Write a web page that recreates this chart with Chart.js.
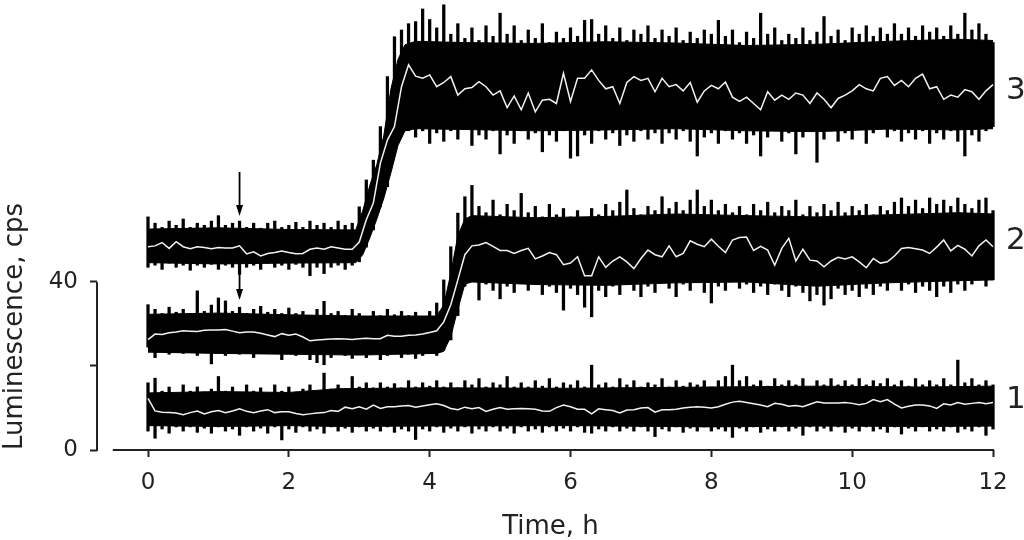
<!DOCTYPE html>
<html>
<head>
<meta charset="utf-8">
<script src="https://cdn.jsdelivr.net/npm/chart.js@4.4.0/dist/chart.umd.min.js"></script>
<style>
  html, body { margin: 0; padding: 0; background: #fff; }
  #wrap { width: 1024px; height: 540px; position: relative; }
</style>
</head>
<body>
<div id="wrap"><canvas id="myChart"></canvas></div>
<script>
// Sampling times of the peak readings, h
const hours = [
  0,0.1,0.2,0.3,0.4,0.5,0.6,0.7,0.8,0.9,
  1,1.1,1.2,1.3,1.4,1.5,1.6,1.7,1.8,1.9,
  2,2.1,2.2,2.3,2.4,2.5,2.6,2.7,2.8,2.9,
  3,3.1,3.2,3.3,3.4,3.5,3.6,3.7,3.8,3.9,
  4,4.1,4.2,4.3,4.4,4.5,4.6,4.7,4.8,4.9,
  5,5.1,5.2,5.3,5.4,5.5,5.6,5.7,5.8,5.9,
  6,6.1,6.2,6.3,6.4,6.5,6.6,6.7,6.8,6.9,
  7,7.1,7.2,7.3,7.4,7.5,7.6,7.7,7.8,7.9,
  8,8.1,8.2,8.3,8.4,8.5,8.6,8.7,8.8,8.9,
  9,9.1,9.2,9.3,9.4,9.5,9.6,9.7,9.8,9.9,
  10,10.1,10.2,10.3,10.4,10.5,10.6,10.7,10.8,10.9,
  11,11.1,11.2,11.3,11.4,11.5,11.6,11.7,11.8,11.9,12
];

// Curve 1 - upper / lower peaks of the raw signal and the averaged trace (cps)
const top1 = [
  16.0,17.1,14.0,15.0,13.5,15.5,14.0,15.0,13.8,14.5,
  17.5,14.0,15.0,13.5,15.5,14.0,14.8,13.5,15.5,14.0,
  15.0,13.8,14.5,15.5,14.0,18.3,14.5,15.5,14.5,17.5,
  15.0,16.0,14.8,16.0,15.0,15.8,14.8,16.5,15.0,16.0,
  15.2,16.5,15.0,16.0,14.8,16.5,15.5,17.0,15.0,16.0,
  15.5,17.5,15.0,16.0,15.0,16.5,15.2,17.0,15.0,16.0,
  15.5,16.5,15.0,20.2,15.5,16.0,15.0,17.0,15.5,16.5,
  15.0,16.0,15.5,17.0,15.0,16.5,15.2,16.0,15.5,16.5,
  15.0,16.5,17.5,20.2,16.5,17.5,15.5,16.5,15.2,17.0,
  15.5,16.5,15.5,17.0,15.0,16.5,15.5,17.0,15.5,16.5,
  15.5,17.0,15.5,16.5,15.8,17.0,15.5,16.5,15.2,17.0,
  15.5,16.5,15.5,17.0,15.5,21.4,16.0,17.0,15.5,16.5,15.5
];
const bottom1 = [
  4.5,2.8,5.0,4.0,5.5,4.5,5.5,4.2,5.2,4.0,
  5.5,4.5,5.0,3.5,5.5,4.5,5.2,4.0,5.5,2.4,
  5.0,4.2,5.5,4.5,5.0,4.0,5.5,4.5,5.2,4.2,
  5.5,4.5,5.2,4.5,5.5,4.2,5.0,4.5,2.5,5.0,
  4.5,5.5,4.2,5.2,4.5,5.5,4.0,5.0,4.5,5.5,
  4.5,5.2,4.0,5.5,4.5,5.0,4.2,5.5,4.5,5.2,
  4.5,5.5,4.2,4.0,5.0,4.5,5.5,4.5,5.2,4.5,
  5.5,4.5,3.2,5.0,4.5,5.5,4.2,5.2,4.5,5.5,
  4.5,5.0,4.5,3.0,5.2,4.5,5.5,4.2,5.0,4.5,
  5.5,4.5,5.2,3.5,5.5,4.5,5.2,4.5,5.5,4.2,
  5.2,4.5,5.5,4.5,5.0,4.2,5.5,3.8,5.2,4.5,
  5.5,4.5,5.0,4.5,5.5,4.2,5.0,4.5,5.5,3.5,5.0
];
const mean1 = [
  12.3,9.3,9.0,8.9,8.8,8.4,8.9,9.3,8.6,9.1,
  9.4,8.9,9.3,9.8,9.2,8.9,9.3,9.6,8.9,9.1,
  9.1,8.7,8.4,8.6,8.8,8.9,9.4,9.2,10.2,9.8,
  10.3,9.7,10.7,9.9,10.3,10.3,10.5,10.6,10.2,10.5,
  10.8,11.0,10.6,9.9,9.6,10.2,9.8,10.1,9.2,9.7,
  10.1,9.7,9.8,9.9,9.8,9.7,9.3,9.2,10.1,10.7,
  10.3,9.7,9.7,8.6,9.8,9.6,9.4,8.8,9.5,9.6,
  10.0,10.1,9.0,9.6,9.6,9.7,10.0,10.2,10.3,10.2,
  10.0,10.3,10.9,11.4,11.6,11.3,11.0,10.7,10.3,11.1,
  10.9,10.4,10.6,10.3,10.9,11.5,11.2,11.2,11.2,11.3,
  11.1,10.8,11.1,12.0,11.5,12.0,10.9,10.0,10.4,10.7,
  10.7,10.5,9.9,11.0,10.7,11.3,10.9,11.1,11.3,11.0,11.3
];
// solid core of the noise band (where the trace is dense)
const coreHours1 = [0, 1.0, 2.0, 2.7, 4.0, 6.0, 8.0, 9.5, 11.0, 12];
const coreTop1 = [13.6, 13.9, 13.7, 14.6, 14.8, 14.7, 15.0, 15.2, 15.0, 15.2];
const coreBottom1 = [5.8, 5.6, 5.8, 5.6, 5.7, 5.8, 5.5, 5.7, 5.6, 5.7];

// Curve 2
const top2 = [
  34.6,33.5,32.5,34.0,32.8,33.5,32.5,37.9,33.0,34.5,
  36.2,35.5,33.0,34.0,32.5,33.5,34.2,32.8,33.5,32.5,
  33.8,32.5,33.0,32.0,33.5,35.4,32.5,33.0,32.0,33.5,
  32.5,31.8,33.0,32.0,33.5,32.2,33.0,32.0,32.8,31.8,
  33.0,35.0,40.5,48.4,56.4,60.3,63.0,58.0,56.5,59.5,
  56.0,58.5,57.0,61.1,56.5,58.0,55.5,58.5,56.0,57.5,
  55.5,57.0,55.0,57.5,56.0,58.5,57.0,59.0,61.9,57.5,
  56.0,58.0,57.0,60.3,57.5,59.0,57.0,59.5,61.9,58.0,
  59.5,57.0,58.5,56.5,58.0,56.0,58.5,57.0,59.0,56.5,
  58.0,57.0,59.5,56.0,58.0,56.5,58.5,57.0,59.0,56.5,
  58.0,57.0,58.5,56.0,58.0,57.0,59.0,60.0,58.0,59.5,
  57.5,60.0,58.5,59.5,58.0,60.0,58.5,57.5,59.5,60.0,57.0
];
const bottom2 = [
  24.5,22.0,23.5,22.8,24.0,23.0,23.5,22.5,24.0,20.5,
  23.0,22.5,23.8,22.8,23.5,22.0,23.0,24.0,23.2,21.5,
  23.5,22.5,23.5,21.5,20.8,20.3,22.0,23.0,22.5,21.8,
  22.8,22.0,23.0,21.5,22.5,23.0,22.0,22.8,21.8,22.5,
  23.0,22.5,23.8,26.2,32.0,39.0,41.5,35.7,39.5,38.0,
  36.0,39.0,37.5,40.0,38.0,39.5,37.0,39.0,37.5,33.3,
  38.5,37.0,34.0,31.7,38.0,36.5,39.0,37.0,39.5,38.0,
  36.5,39.0,37.5,40.0,38.5,36.5,39.5,38.0,40.0,37.5,
  35.0,39.0,38.0,40.5,38.5,39.5,37.5,39.0,37.0,39.5,
  38.0,36.5,39.0,37.5,35.5,37.0,34.5,36.0,38.5,37.0,
  38.0,36.5,38.5,37.0,39.0,38.0,40.0,38.0,39.5,37.5,
  39.0,38.0,36.5,39.0,37.5,39.5,38.0,39.5,40.5,39.0,40.5
];
const mean2 = [
  26.3,27.6,27.5,27.9,28.1,28.4,28.3,28.2,28.5,28.6,
  28.6,28.7,28.3,27.9,28.1,28.1,27.8,27.4,27.0,27.7,
  27.3,27.6,26.9,26.0,26.2,26.3,26.4,26.5,26.4,26.3,
  26.5,26.6,26.5,26.5,27.3,27.1,27.1,27.3,27.4,27.6,
  28.0,28.4,30.5,34.6,40.5,46.5,48.6,48.8,49.4,48.5,
  47.5,47.5,46.8,47.5,48.0,45.5,46.2,47.0,46.5,44.1,
  44.5,46.0,41.5,41.5,46.0,43.5,45.0,46.0,44.8,43.2,
  45.6,47.6,46.5,46.0,48.6,46.0,46.8,49.8,49.0,48.4,
  50.2,48.5,47.0,50.0,50.6,50.7,47.5,48.5,47.6,44.0,
  48.0,50.4,45.0,47.8,45.2,45.0,43.6,45.0,45.9,45.5,
  46.0,44.8,43.4,45.6,44.5,44.8,46.2,48.0,48.2,47.9,
  47.6,46.8,48.3,50.0,47.4,48.7,47.8,46.2,48.6,50.0,48.4
];
const coreHours2 = [0, 1.0, 2.0, 3.0, 4.1, 4.2, 4.3, 4.4, 4.5, 4.6, 5.5, 6.5, 7.5, 8.5, 9.5, 10.5, 11.5, 12];
const coreTop2 = [32.3, 32.6, 32.2, 31.9, 31.9, 34.5, 42.0, 51.0, 55.0, 55.8, 55.3, 55.6, 56.2, 55.8, 55.5, 56.0, 56.5, 56.2];
const coreBottom2 = [23.3, 23.0, 22.8, 22.6, 23.0, 23.5, 27.0, 33.5, 39.5, 40.0, 39.4, 39.2, 39.8, 40.0, 39.0, 39.8, 40.3, 40.5];

// Curve 3
const top3 = [
  55.5,54.0,53.0,54.5,53.5,55.0,53.0,54.0,53.5,54.5,
  55.8,53.5,54.0,54.5,53.0,54.0,52.8,54.0,54.5,53.0,
  53.5,54.2,53.0,54.5,53.5,54.0,53.0,54.5,53.5,54.0,
  57.9,64.3,69.0,77.0,88.9,98.4,100.0,101.5,102.0,105.0,
  102.5,100.5,106.0,99.0,101.5,98.0,100.5,97.5,101.0,98.5,
  104.0,99.0,101.0,97.5,100.0,98.0,101.5,97.0,99.5,98.0,
  100.5,98.5,102.3,102.5,99.0,101.0,98.0,100.5,97.5,100.0,
  99.0,101.0,98.0,100.0,98.5,100.5,97.5,99.5,98.0,100.0,
  99.0,102.3,98.5,100.0,97.0,99.5,98.0,104.0,99.0,100.5,
  97.5,99.0,98.0,100.5,97.5,99.5,103.2,98.5,100.0,97.5,
  100.5,99.0,101.0,98.5,100.5,99.0,101.5,99.0,100.5,98.5,
  101.0,99.5,100.5,98.5,101.0,99.0,104.0,100.0,101.5,99.0,97.0
];
const bottom3 = [
  43.5,44.0,43.0,44.5,43.5,44.0,42.8,44.0,43.5,44.2,
  43.0,44.0,43.5,41.8,43.5,44.0,43.0,44.5,43.5,44.0,
  43.0,44.2,43.5,41.5,43.5,42.0,43.5,44.0,43.0,44.0,
  44.8,48.3,52.4,57.9,62.7,71.4,75.5,76.0,74.5,76.0,
  73.0,75.5,73.5,76.0,74.0,76.5,72.5,75.0,74.0,76.0,
  70.5,75.0,73.0,76.0,74.0,75.5,71.0,75.0,73.5,76.0,
  69.5,70.0,75.0,73.0,76.0,74.0,75.5,72.5,75.0,73.5,
  76.0,74.0,75.5,73.0,75.5,74.0,76.0,73.5,70.0,74.5,
  75.5,73.0,76.0,74.0,75.5,73.0,75.0,70.0,74.5,76.0,
  73.5,75.5,70.5,74.5,76.0,68.5,74.0,76.0,73.5,75.5,
  74.0,76.5,73.0,75.5,77.0,74.5,76.0,73.5,75.5,74.0,
  76.0,73.0,75.5,74.0,76.0,73.5,70.0,75.0,73.5,76.0,77.0
];
const mean3 = [
  48.4,48.6,49.4,48.0,49.6,48.4,47.9,48.4,48.2,47.9,
  48.2,48.1,48.1,48.6,46.7,47.2,46.2,46.8,47.0,47.4,
  47.0,46.7,46.8,47.8,48.1,47.8,48.4,48.1,47.8,47.8,
  49.5,54.8,58.8,68.3,73.8,77.0,86.5,91.7,89.0,88.5,
  89.3,86.5,87.5,88.9,84.5,86.0,86.3,87.7,86.5,84.5,
  85.5,81.5,84.3,81.0,85.0,80.5,83.3,83.5,82.5,89.7,
  83.0,88.5,88.5,90.5,88.0,86.0,86.5,82.5,87.5,88.9,
  88.0,88.5,85.3,88.5,86.5,87.0,85.5,87.5,82.8,85.5,
  86.8,86.0,87.6,84.0,83.0,84.0,82.5,81.0,85.3,83.3,
  84.5,83.5,85.0,84.5,82.5,85.0,83.5,81.5,83.7,84.5,
  85.5,87.0,86.0,85.5,88.5,88.9,86.8,88.0,86.5,88.5,
  89.5,86.0,86.5,83.5,84.5,84.0,85.8,85.3,83.5,85.5,87.0
];
const coreHours3 = [0, 1.0, 2.0, 2.95, 3.05, 3.15, 3.25, 3.35, 3.45, 3.55, 3.65, 3.8, 4.5, 5.5, 6.5, 7.5, 8.5, 9.5, 10.5, 11.5, 12];
const coreTop3 = [52.6, 52.9, 52.5, 52.4, 57.0, 63.0, 68.0, 75.0, 86.0, 93.0, 96.5, 97.3, 97.0, 96.8, 97.2, 96.9, 96.3, 96.6, 97.3, 97.8, 97.5];
const coreBottom3 = [44.6, 44.3, 44.5, 44.6, 46.5, 50.5, 55.0, 60.0, 66.0, 72.5, 76.0, 76.5, 76.3, 76.0, 76.2, 76.5, 76.0, 75.8, 76.4, 76.2, 76.5];

// Axis ticks and annotations
const xTicks = [0, 2, 4, 6, 8, 10, 12];
const yTicks = [0, 20, 40];
const yTickLabels = ['0', '', '40'];
const curveNames = ['1', '2', '3'];
const curveLabelAt = [11.8, 49.8, 85.5];   // cps level of the curve numbers
const arrowTime = 1.3;                        // h, moment of addition
const arrowSpans = [[66.2, 55.7], [44.5, 35.7]];

const ink = '#000';
const axisInk = '#222';
const fontFamily = '"DejaVu Sans", Verdana, sans-serif';

function pts(xs, arr) {
  return xs.map((h, i) => ({x: h, y: arr[i]}));
}

// dense part of the noise: filled between its lower and upper edge
function core(xs, lo, hi) {
  return [
    {type: 'line', data: pts(xs, lo), borderColor: ink, borderWidth: 1, pointRadius: 0, fill: false, order: 3},
    {type: 'line', data: pts(xs, hi), borderColor: ink, borderWidth: 1, pointRadius: 0, fill: '-1', backgroundColor: ink, order: 3}
  ];
}

// individual noise peaks: a thin floating bar from lower to upper peak
function peaks(hi, lo) {
  return {
    type: 'bar',
    data: hours.map((h, i) => ({x: h, y: [lo[i], hi[i]]})),
    backgroundColor: ink, borderWidth: 0, barThickness: 2.6, grouped: false, order: 2
  };
}

function meanLine(arr) {
  return {type: 'line', data: pts(hours, arr), borderColor: '#f2f2f2', borderWidth: 1.5, pointRadius: 0, fill: false, order: 1};
}

// axis lines, arrows and curve numbers
const annotate = {
  id: 'annotate',
  afterDraw(chart) {
    const ctx = chart.ctx;
    const x = chart.scales.x, y = chart.scales.y;
    const area = chart.chartArea;
    ctx.save();
    ctx.strokeStyle = axisInk;
    ctx.lineWidth = 2;
    ctx.beginPath();
    ctx.moveTo(area.left, y.getPixelForValue(40));
    ctx.lineTo(area.left, y.getPixelForValue(0) + 1);
    ctx.stroke();
    ctx.beginPath();
    ctx.moveTo(x.getPixelForValue(-0.5), area.bottom);
    ctx.lineTo(x.getPixelForValue(12) + 1, area.bottom);
    ctx.stroke();

    // arrows
    ctx.strokeStyle = ink;
    ctx.fillStyle = ink;
    ctx.lineWidth = 1.8;
    const ax = x.getPixelForValue(arrowTime);
    arrowSpans.forEach(s => {
      const y0 = y.getPixelForValue(s[0]);
      const y1 = y.getPixelForValue(s[1]);
      ctx.beginPath();
      ctx.moveTo(ax, y0);
      ctx.lineTo(ax, y1 - 6);
      ctx.stroke();
      ctx.beginPath();
      ctx.moveTo(ax - 3.5, y1 - 11);
      ctx.lineTo(ax + 3.5, y1 - 11);
      ctx.lineTo(ax, y1);
      ctx.closePath();
      ctx.fill();
    });

    // curve numbers
    ctx.fillStyle = axisInk;
    ctx.font = '31px ' + fontFamily;
    ctx.textAlign = 'left';
    ctx.textBaseline = 'middle';
    curveNames.forEach((n, i) => {
      ctx.fillText(n, x.getPixelForValue(12) + 13, y.getPixelForValue(curveLabelAt[i]));
    });
    ctx.restore();
  }
};

Chart.defaults.font.family = fontFamily;
Chart.defaults.color = axisInk;

const ctx = document.getElementById('myChart').getContext('2d');
const myChart = new Chart(ctx, {
  type: 'line',
  data: {
    datasets: [
      ...core(coreHours1, coreBottom1, coreTop1),
      ...core(coreHours2, coreBottom2, coreTop2),
      ...core(coreHours3, coreBottom3, coreTop3),
      peaks(top1, bottom1),
      peaks(top2, bottom2),
      peaks(top3, bottom3),
      meanLine(mean1),
      meanLine(mean2),
      meanLine(mean3)
    ]
  },
  options: {
    responsive: true,
    maintainAspectRatio: false,
    animation: false,
    events: [],
    layout: { padding: { left: 0, right: 20, top: 0, bottom: 0 } },
    plugins: {
      legend: { display: false },
      tooltip: { enabled: false }
    },
    scales: {
      x: {
        type: 'linear',
        offset: false,
        min: -0.7243,
        max: 12.156,
        border: { display: false },
        grid: { offset: false, drawOnChartArea: false, drawTicks: true, tickLength: 7, tickWidth: 2, tickColor: axisInk },
        ticks: { font: { size: 23 }, color: axisInk, padding: 12, maxRotation: 0 },
        title: { display: true, text: 'Time, h', font: { size: 26, lineHeight: 0.95 }, color: axisInk, padding: { top: 0, bottom: 0 } },
        afterBuildTicks: scale => { scale.ticks = xTicks.map(v => ({value: v})); },
        afterFit: scale => { scale.height = 90; scale.paddingLeft = 0; scale.paddingRight = 0; }
      },
      y: {
        type: 'linear',
        min: 0,
        max: 107.14,
        border: { display: false },
        grid: { drawOnChartArea: false, drawTicks: true, tickLength: 7, tickWidth: 2, tickColor: axisInk },
        ticks: {
          font: { size: 23 },
          color: axisInk,
          padding: 12,
          callback: v => yTickLabels[yTicks.indexOf(v)]
        },
        title: { display: true, text: 'Luminescence, cps', align: 'start', font: { size: 26 }, color: axisInk, padding: { top: 0, bottom: 0 } },
        afterBuildTicks: scale => { scale.ticks = yTicks.map(v => ({value: v})); },
        afterFit: scale => { scale.width = 97; scale.paddingTop = 0; scale.paddingBottom = 0; }
      }
    }
  },
  plugins: [annotate]
});
</script>
</body>
</html>
